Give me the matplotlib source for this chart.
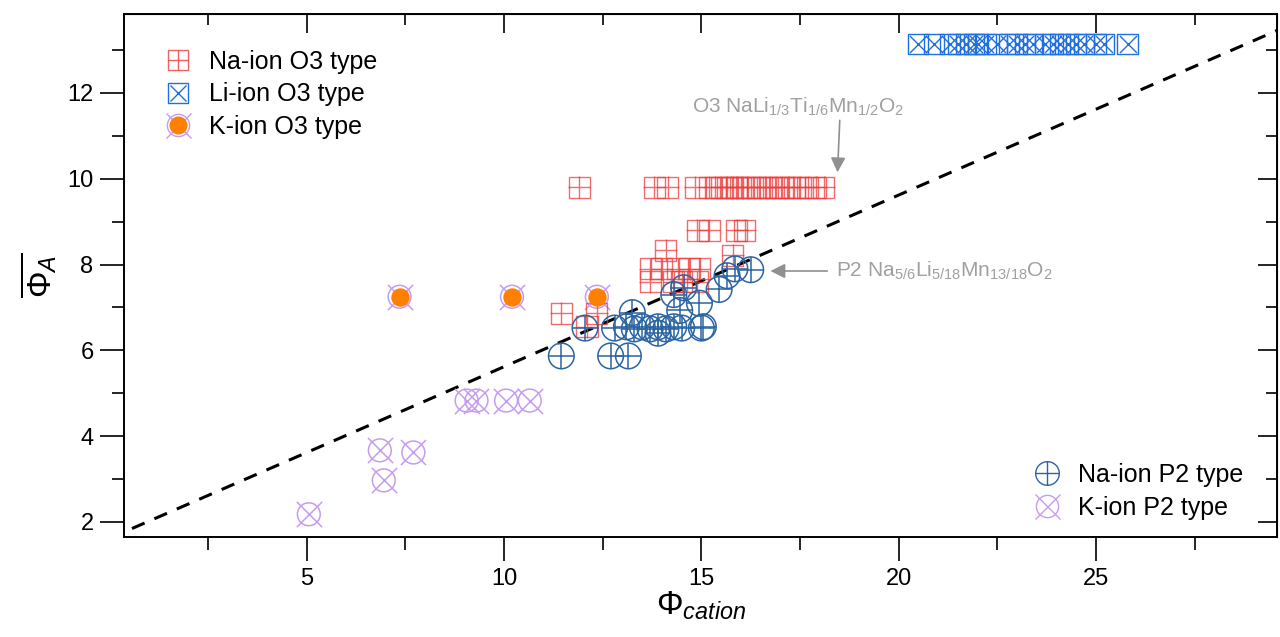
import matplotlib.pyplot as plt
import numpy as np
from matplotlib.lines import Line2D

plt.rcParams['font.family'] = ['Liberation Sans', 'DejaVu Sans']
plt.rcParams['mathtext.fontset'] = 'custom'
plt.rcParams['mathtext.rm'] = 'Liberation Sans'
plt.rcParams['mathtext.it'] = 'Liberation Sans:italic'

# Na-ion O3 type
na_o3_x = [11.9, 13.8, 14.15, 14.85, 15.2, 15.35, 15.5, 15.65, 15.8, 15.9, 16.0, 16.15, 16.3,
           16.45, 16.6, 16.75, 16.9, 17.05, 17.2, 17.35, 17.5, 17.7, 17.9, 18.1,
           14.9, 15.2, 15.9, 16.1, 14.1, 15.8,
           13.7, 14.0, 14.4, 14.7, 14.95, 13.7, 14.3, 14.5, 14.9,
           11.45, 12.35, 12.1]
na_o3_y = [9.8] * 24 + [8.8, 8.8, 8.8, 8.8, 8.33, 8.22,
           7.9, 7.9, 7.9, 7.9, 7.9, 7.6, 7.6, 7.6, 7.6,
           6.86, 6.86, 6.55]

# Li-ion O3 type
li_o3_x = [20.5, 20.9, 21.3, 21.5, 21.7, 21.9, 22.0, 22.2, 22.5, 22.8, 23.0, 23.2,
           23.4, 23.7, 23.9, 24.1, 24.3, 24.5, 24.7, 25.0, 25.2, 25.8]
li_o3_y = [13.15] * 22

# K-ion O3 type
k_o3_x = [7.35, 10.2, 12.35]
k_o3_y = [7.25, 7.25, 7.25]

# Na-ion P2 type
na_p2_x = [11.45, 12.05, 12.7, 13.15, 13.25, 12.8, 13.1, 13.3, 13.5, 13.7, 13.9, 14.1, 14.3,
           13.9, 14.5, 15.05, 15.0, 14.45, 14.55, 14.95, 15.45, 15.65, 15.85, 16.25, 14.3]
na_p2_y = [5.87, 6.52, 5.87, 5.87, 6.88, 6.52, 6.55, 6.5, 6.55, 6.5, 6.55, 6.5, 6.55,
           6.4, 6.52, 6.55, 6.52, 6.93, 7.46, 7.1, 7.42, 7.74, 7.9, 7.88, 7.3]

# K-ion P2 type
k_p2_x = [5.05, 6.85, 6.95, 7.7, 9.05, 9.3, 10.05, 10.65]
k_p2_y = [2.18, 3.67, 2.97, 3.62, 4.83, 4.83, 4.83, 4.83]

red = '#ee3b3b'
blue_li = '#1f6fe0'
blue_na = '#2b64a3'
purple = '#c59cf0'
orange = '#ff7f00'
grey = '#a0a0a0'

fig = plt.figure(figsize=(12.8, 6.37), dpi=100)
ax = fig.add_axes([0.097, 0.157, 0.901, 0.821])

# dashed guide line
lx = np.array([0.0, 30.0])
ax.plot(lx, 0.4 * lx + 1.62, '--', color='black', lw=2.2, dashes=(4.5, 3.5), zorder=1)

# K-ion P2 (circle + x)
ax.scatter(k_p2_x, k_p2_y, s=270, marker='o', facecolors='none', edgecolors=purple, linewidths=1.1, zorder=2)
ax.scatter(k_p2_x, k_p2_y, s=330, marker='x', color=purple, linewidths=1.1, zorder=2)

# K-ion O3 (circle + x + orange dot)
ax.scatter(k_o3_x, k_o3_y, s=270, marker='o', facecolors='none', edgecolors=purple, linewidths=1.1, zorder=3)
ax.scatter(k_o3_x, k_o3_y, s=330, marker='x', color=purple, linewidths=1.1, zorder=3)
ax.scatter(k_o3_x, k_o3_y, s=150, marker='o', color=orange, zorder=4)

# Na-ion O3 (square + plus)
ax.scatter(na_o3_x, na_o3_y, s=230, marker='s', facecolors='none', edgecolors=red, linewidths=1.0, alpha=0.75, zorder=3)
ax.scatter(na_o3_x, na_o3_y, s=230, marker='+', color=red, linewidths=1.0, alpha=0.75, zorder=3)

# Na-ion P2 (circle + plus)
ax.scatter(na_p2_x, na_p2_y, s=340, marker='o', facecolors='none', edgecolors=blue_na, linewidths=1.1, zorder=3)
ax.scatter(na_p2_x, na_p2_y, s=340, marker='+', color=blue_na, linewidths=1.1, zorder=3)

# Li-ion O3 (square + x)
ax.scatter(li_o3_x, li_o3_y, s=210, marker='s', facecolors='none', edgecolors=blue_li, linewidths=1.0, zorder=3)
ax.scatter(li_o3_x, li_o3_y, s=150, marker='x', color=blue_li, linewidths=1.0, zorder=3)

ax.set_xlim(0.37, 29.6)
ax.set_ylim(1.65, 13.84)
ax.set_xticks([5, 10, 15, 20, 25])
ax.set_xticks([2.5, 7.5, 12.5, 17.5, 22.5, 27.5], minor=True)
ax.set_yticks([2, 4, 6, 8, 10, 12])
ax.set_yticks([3, 5, 7, 9, 11, 13], minor=True)
ax.tick_params(which='both', direction='out', labelsize=17, width=1.2, top=False, right=False)
ax.tick_params(which='major', length=17, pad=5)
ax.tick_params(which='minor', length=9)
for s in ax.spines.values():
    s.set_linewidth(1.4)

# inward ticks on top and right
sx = ax.secondary_xaxis('top')
sx.set_xticks([5, 10, 15, 20, 25], labels=[])
sx.set_xticks([2.5, 7.5, 12.5, 17.5, 22.5, 27.5], minor=True)
sx.tick_params(which='major', direction='in', length=14, width=1.2)
sx.tick_params(which='minor', direction='in', length=8, width=1.2)
sy = ax.secondary_yaxis('right')
sy.set_yticks([2, 4, 6, 8, 10, 12], labels=[])
sy.set_yticks([3, 5, 7, 9, 11, 13], minor=True)
sy.tick_params(which='major', direction='in', length=14, width=1.2)
sy.tick_params(which='minor', direction='in', length=8, width=1.2)

ax.set_xlabel(r'$\Phi_{cation}$', fontsize=24, labelpad=0)
ax.set_ylabel(r'$\overline{\Phi_A}$', fontsize=24, labelpad=6)

# annotations
ax.annotate(r'O3 NaLi$_{1/3}$Ti$_{1/6}$Mn$_{1/2}$O$_2$', xy=(18.45, 10.15), xytext=(14.75, 11.55),
            fontsize=15, color=grey,
            arrowprops=dict(arrowstyle='-|>', color='#909090', lw=1.2, mutation_scale=22,
                            shrinkA=0, shrinkB=0, relpos=(0.7, 0.0)))
ax.annotate(r'P2 Na$_{5/6}$Li$_{5/18}$Mn$_{13/18}$O$_2$', xy=(16.75, 7.85), xytext=(18.4, 7.85),
            fontsize=15, color=grey, va='center',
            arrowprops=dict(arrowstyle='-|>', color='#909090', lw=1.2, mutation_scale=22,
                            shrinkA=4, shrinkB=0, relpos=(0.0, 0.5)))

# legends with composite markers
h_na_o3 = (Line2D([], [], ls='', marker='s', ms=15, mfc='none', mec=red, alpha=0.8),
           Line2D([], [], ls='', marker='+', ms=15, color=red, alpha=0.8))
h_li_o3 = (Line2D([], [], ls='', marker='s', ms=15, mfc='none', mec=blue_li),
           Line2D([], [], ls='', marker='x', ms=12, color=blue_li))
h_k_o3 = (Line2D([], [], ls='', marker='o', ms=16, mfc='none', mec=purple),
          Line2D([], [], ls='', marker='x', ms=18, color=purple),
          Line2D([], [], ls='', marker='o', ms=12, color=orange))
leg1 = ax.legend([h_na_o3, h_li_o3, h_k_o3], ['Na-ion O3 type', 'Li-ion O3 type', 'K-ion O3 type'],
                 loc='upper left', bbox_to_anchor=(0.017, 0.975), frameon=False, fontsize=18,
                 handlelength=0.9, handletextpad=0.8, labelspacing=0.35)
ax.add_artist(leg1)
h_na_p2 = (Line2D([], [], ls='', marker='o', ms=17, mfc='none', mec=blue_na),
           Line2D([], [], ls='', marker='+', ms=17, color=blue_na))
h_k_p2 = (Line2D([], [], ls='', marker='o', ms=16, mfc='none', mec=purple),
          Line2D([], [], ls='', marker='x', ms=18, color=purple))
ax.legend([h_na_p2, h_k_p2], ['Na-ion P2 type', 'K-ion P2 type'],
          loc='lower right', bbox_to_anchor=(0.99, -0.01), frameon=False, fontsize=18,
          handlelength=0.9, handletextpad=0.8, labelspacing=0.35)

fig.savefig('out.png', dpi=100)
